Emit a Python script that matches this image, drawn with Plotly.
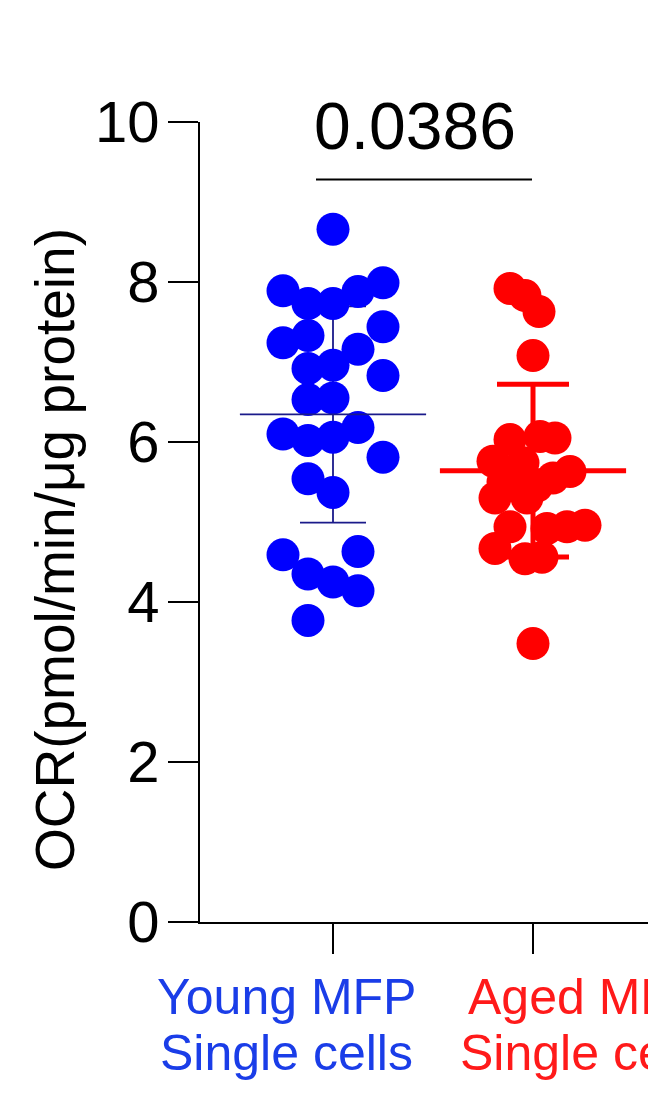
import numpy as np
import plotly.graph_objects as go

groups = [['Young MFP', 'Single cells'], ['Aged MFP', 'Single cells']]
group_colors = ['#0000ff', '#ff0000']
label_colors = ['#1a3de8', '#ff1a1a']

# OCR values (pmol/min/ug protein)
young_ocr = [8.66, 7.89, 7.73, 7.73, 7.88, 7.99, 7.44, 7.24, 7.33, 7.16,
             6.92, 6.96, 6.83, 6.53, 6.55, 6.10, 6.02, 6.06, 6.18, 5.81,
             5.54, 5.37, 4.59, 4.63, 4.35, 4.25, 4.14, 3.77]
young_jitter = [0, -2, -1, 0, 1, 2, 2, -2, -1, 1,
                -1, 0, 2, -1, 0, -2, -1, 0, 1, 2,
                -1, 0, -2, 1, -1, 0, 1, -1]

aged_ocr = [7.92, 7.83, 7.63, 7.08, 6.07, 6.03, 6.05, 5.76, 5.74, 5.63,
            5.55, 5.30, 5.30, 4.94, 4.92, 4.94, 4.96, 4.67, 4.54, 4.56, 3.48,
            5.50, 5.45, 5.55]
aged_jitter = [-0.115, -0.04, 0.03, 0, 0.035, -0.115, 0.11, -0.2, -0.05, 0.185,
               0.1, -0.19, -0.03, -0.115, 0.07, 0.17, 0.26, -0.19, -0.04, 0.045, 0,
               -0.15, 0.02, -0.08]

p_value = '0.0386'
y_ticks = [0, 2, 4, 6, 8, 10]

FONT = 'Arial, Liberation Sans, sans-serif'

young = np.array(young_ocr)
aged = np.array(aged_ocr)

fig = go.Figure()

# SD error bars (behind the dots)
fig.add_trace(go.Scatter(
    x=[0], y=[young.mean()], mode='markers',
    marker=dict(size=1, color='rgba(0,0,0,0)'),
    error_y=dict(type='data', array=[young.std(ddof=1)], color='#1a1a8a',
                 thickness=1.8, width=33),
    showlegend=False, hoverinfo='skip'))
fig.add_trace(go.Scatter(
    x=[1], y=[aged.mean()], mode='markers',
    marker=dict(symbol='line-ew', size=133, line=dict(width=5, color='#ff0000')),
    error_y=dict(type='data', array=[aged.std(ddof=1)], color='#ff0000',
                 thickness=5, width=36),
    showlegend=False, hoverinfo='skip'))

# dots
fig.add_trace(go.Scatter(
    x=0 + np.array(young_jitter) * 0.125, y=young, mode='markers',
    marker=dict(size=33, color=group_colors[0], line=dict(width=0)),
    showlegend=False))
fig.add_trace(go.Scatter(
    x=1 + np.array(aged_jitter), y=aged, mode='markers',
    marker=dict(size=33, color=group_colors[1], line=dict(width=0)),
    showlegend=False))

# young mean line on top
fig.add_trace(go.Scatter(
    x=[0], y=[young.mean()], mode='markers',
    marker=dict(symbol='line-ew', size=133, line=dict(width=1.8, color='#1a1a8a')),
    showlegend=False, hoverinfo='skip'))

# significance bracket
fig.add_shape(type='line', xref='x', yref='y', x0=-0.085, x1=0.995, y0=9.28, y1=9.28,
              line=dict(color='black', width=2))
fig.add_annotation(x=0.4075, y=9.28, xref='x', yref='y', text=p_value, showarrow=False,
                   yanchor='bottom', yshift=15, font=dict(family=FONT, size=66, color='black'))

# y title
fig.add_annotation(x=0, y=0.465, xref='paper', yref='paper', xanchor='center', yanchor='middle',
                   xshift=-145, textangle=-90, showarrow=False,
                   text='OCR(pmol/min/μg protein)',
                   font=dict(family=FONT, size=55, color='black'))

# group labels under the axis (offset from the ticks like the original)
label_x = [-0.235, 1.265]
for gx, lines, col in zip(label_x, groups, label_colors):
    for k, line in enumerate(lines):
        fig.add_annotation(x=gx, y=0, xref='x', yref='paper', text=line, showarrow=False,
                           xanchor='center', yanchor='middle', yshift=-75 - 56 * k,
                           font=dict(family=FONT, size=50, color=col))

fig.update_layout(
    width=656, height=1114,
    margin=dict(l=192, r=0, t=114, b=200),
    plot_bgcolor='white', paper_bgcolor='white',
    font=dict(family=FONT, color='black'),
    xaxis=dict(range=[-0.665, 1.655], tickvals=[0, 1], showticklabels=False,
               showline=True, linecolor='black', linewidth=2, showgrid=False, zeroline=False,
               ticks='outside', ticklen=30, tickwidth=2, tickcolor='black',
               automargin=False),
    yaxis=dict(range=[0, 10], tickvals=y_ticks,
               showline=True, linecolor='black', linewidth=2, showgrid=False, zeroline=False,
               ticks='outside', ticklen=30, tickwidth=2, tickcolor='black',
               ticklabelstandoff=-3, automargin=False,
               tickfont=dict(family=FONT, size=58)),
)

fig.write_html('out.html')
